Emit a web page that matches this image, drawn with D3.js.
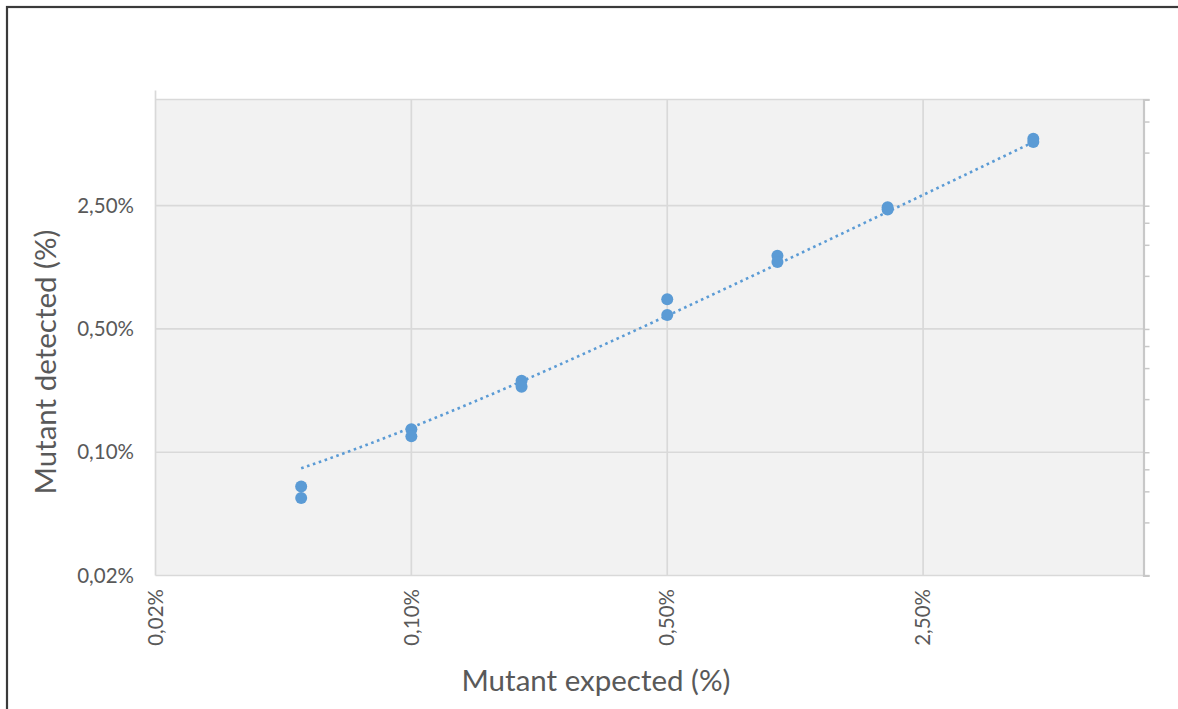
<!DOCTYPE html>
<html>
<head>
<meta charset="utf-8">
<script src="https://cdn.jsdelivr.net/npm/d3@7"></script>
<style>
  html, body { margin: 0; padding: 0; background: #fff; }
  svg { display: block; }
  text { font-family: Lato, "Open Sans", sans-serif; fill: #595959; }
</style>
</head>
<body>
<svg id="chart" width="1178" height="709"></svg>
<script>
// Expected vs. detected mutant fraction (%), two replicates per dilution level
const expectedPct = [0.05, 0.05, 0.1, 0.1, 0.2, 0.2, 0.5, 0.5, 1, 1, 2, 2, 5, 5];
const detectedPct = [0.064, 0.055, 0.135, 0.123, 0.254, 0.235, 0.736, 0.60, 1.30, 1.20, 2.45, 2.38, 6.0, 5.75];

// Linear trendline (detected = slope * expected + intercept)
const trendSlope = 1.141;
const trendIntercept = 0.024;

// Axis ticks: log base 5
const majorTicks = [0.02, 0.1, 0.5, 2.5];
const majorTickLabels = ["0,02%", "0,10%", "0,50%", "2,50%"];
const minorTicks = [0.04, 0.06, 0.08, 0.2, 0.3, 0.4, 1, 1.5, 2, 5, 7.5, 10];
const axisDomain = [0.02, 10];

const xTitle = "Mutant expected (%)";
const yTitle = "Mutant detected (%)";

const svg = d3.select("#chart");
const plot = { left: 155.5, right: 1143.5, top: 99.5, bottom: 575.5 };

const x = d3.scaleLog().base(5).domain(axisDomain).range([plot.left, plot.right]);
const y = d3.scaleLog().base(5).domain(axisDomain).range([plot.bottom, plot.top]);

// Outer frame
svg.append("rect")
  .attr("x", 7).attr("y", 7).attr("width", 1300).attr("height", 900)
  .attr("fill", "none").attr("stroke", "#3a3a3a").attr("stroke-width", 2.2);

// Plot area
svg.append("rect")
  .attr("x", plot.left).attr("y", plot.top)
  .attr("width", plot.right - plot.left).attr("height", plot.bottom - plot.top)
  .attr("fill", "#f2f2f2");

// Gridlines
const grid = svg.append("g").attr("stroke", "#d9d9d9").attr("stroke-width", 1.7);
majorTicks.slice(1).forEach(v => {
  grid.append("line").attr("x1", x(v)).attr("x2", x(v)).attr("y1", plot.top).attr("y2", plot.bottom);
  grid.append("line").attr("x1", plot.left).attr("x2", plot.right).attr("y1", y(v)).attr("y2", y(v));
});

// Plot border lines
const border = svg.append("g").attr("stroke", "#d9d9d9").attr("stroke-width", 1.7);
border.append("line").attr("x1", plot.left).attr("x2", plot.right + 6).attr("y1", plot.top).attr("y2", plot.top);
border.append("line").attr("x1", plot.left).attr("x2", plot.right + 6).attr("y1", plot.bottom).attr("y2", plot.bottom);
border.append("line").attr("x1", plot.left).attr("x2", plot.left).attr("y1", plot.top - 9).attr("y2", plot.bottom);

// Right axis with major and minor tick marks
const rightAxis = svg.append("g")
  .attr("transform", `translate(${plot.right},0)`)
  .call(d3.axisRight(y).tickValues(majorTicks.concat(minorTicks)).tickSize(6).tickFormat(""));
rightAxis.select(".domain").attr("stroke", "#c8c8c8").attr("stroke-width", 2.2);
rightAxis.selectAll(".tick line").attr("stroke", "#c8c8c8").attr("stroke-width", 1.5);

// Y tick labels
const yLabels = svg.append("g");
majorTicks.forEach((v, i) => {
  yLabels.append("text")
    .attr("x", 134).attr("y", y(v)).attr("dy", "0.35em")
    .attr("text-anchor", "end").attr("font-size", 20.5)
    .text(majorTickLabels[i]);
});

// X tick labels (rotated)
const xLabels = svg.append("g");
majorTicks.forEach((v, i) => {
  xLabels.append("text")
    .attr("transform", `translate(${x(v)},589) rotate(-90)`)
    .attr("dy", "0.35em")
    .attr("text-anchor", "end").attr("font-size", 20.5)
    .text(majorTickLabels[i]);
});

// Axis titles
svg.append("text")
  .attr("x", 596).attr("y", 691)
  .attr("text-anchor", "middle").attr("font-size", 29.5)
  .text(xTitle);
svg.append("text")
  .attr("transform", `translate(56,362) rotate(-90)`)
  .attr("text-anchor", "middle").attr("font-size", 29.5)
  .text(yTitle);

// Trendline (dotted), drawn across the data range
const xExtent = d3.extent(expectedPct);
const trendX = d3.range(0, 201).map(i => xExtent[0] * Math.pow(xExtent[1] / xExtent[0], i / 200));
const trendLine = d3.line()
  .x(d => x(d))
  .y(d => y(trendSlope * d + trendIntercept));
svg.append("path")
  .datum(trendX)
  .attr("d", trendLine)
  .attr("fill", "none")
  .attr("stroke", "#5b9bd5")
  .attr("stroke-width", 2.6)
  .attr("stroke-dasharray", "2.6,3.6");

// Data points
svg.append("g")
  .selectAll("circle")
  .data(expectedPct.map((e, i) => [e, detectedPct[i]]))
  .join("circle")
  .attr("cx", d => x(d[0]))
  .attr("cy", d => y(d[1]))
  .attr("r", 6)
  .attr("fill", "#5b9bd5");
</script>
</body>
</html>
